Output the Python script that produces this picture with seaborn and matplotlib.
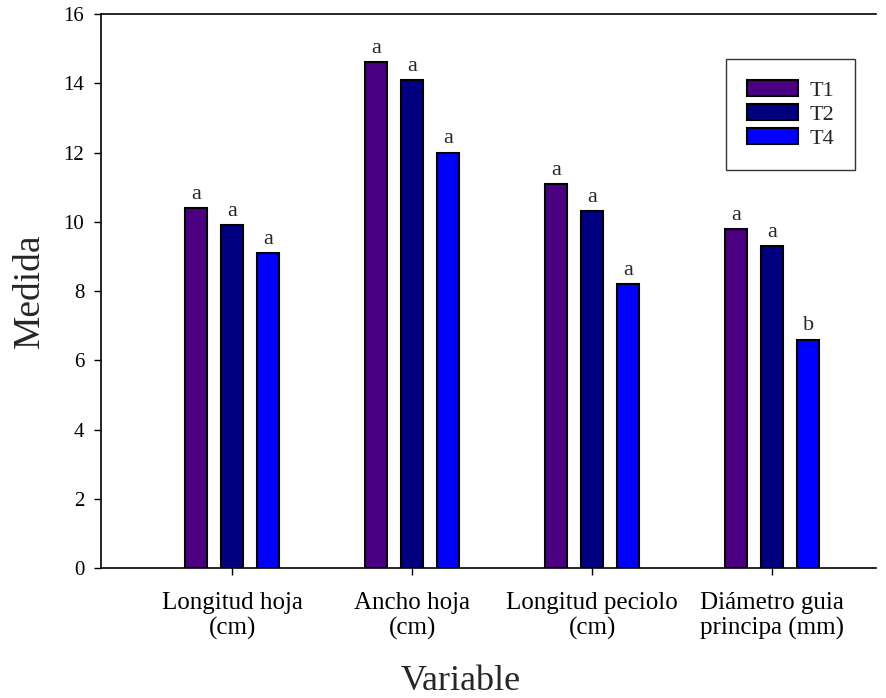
import pandas as pd
import matplotlib
matplotlib.use("Agg")
import matplotlib.pyplot as plt
import seaborn as sns

# -------------------- DATA --------------------
variables = ["Longitud hoja\n(cm)", "Ancho hoja\n(cm)",
             "Longitud peciolo\n(cm)", "Diámetro guia\nprincipa (mm)"]
t1 = [10.4, 14.6, 11.1, 9.8]
t2 = [9.9, 14.1, 10.3, 9.3]
t4 = [9.1, 12.0, 8.2, 6.6]
letras_t1 = ["a", "a", "a", "a"]
letras_t2 = ["a", "a", "a", "a"]
letras_t4 = ["a", "a", "a", "b"]
tratamientos = ["T1", "T2", "T4"]
colores = ["#4B0082", "#000080", "#0000FF"]

df = pd.DataFrame({
    "Variable": variables * 3,
    "Medida": t1 + t2 + t4,
    "Tratamiento": ["T1"] * 4 + ["T2"] * 4 + ["T4"] * 4,
})

# -------------------- STYLE --------------------
sns.set_style("ticks")
plt.rcParams["font.family"] = ["Liberation Serif", "DejaVu Serif"]

fig = plt.figure(figsize=(8.86, 6.98), dpi=100)
ax = fig.add_axes([0.114, 0.186, 0.875, 0.794])

sns.barplot(data=df, x="Variable", y="Medida", hue="Tratamiento",
            hue_order=tratamientos, palette=colores, saturation=1,
            width=0.6, gap=0.4, edgecolor="black", linewidth=1.5,
            errorbar=None, ax=ax)

# letters above bars
for cont, letras in zip(ax.containers, [letras_t1, letras_t2, letras_t4]):
    ax.bar_label(cont, labels=letras, padding=3, fontsize=16)

ax.set_ylim(0, 16)
ax.set_xlim(-0.728, 3.578)
ax.set_yticks(range(0, 17, 2))
ax.tick_params(axis="both", direction="out", length=5, width=1, colors="black")
ax.tick_params(axis="y", labelsize=15, pad=7)
ax.tick_params(axis="x", labelsize=18, pad=12)
for lab in ax.get_xticklabels():
    lab.set_linespacing(1.2)

for side in ["left", "bottom", "top"]:
    ax.spines[side].set_linewidth(1.2)
    ax.spines[side].set_color("black")
ax.spines["right"].set_visible(False)

ax.set_ylabel("Medida", fontsize=27, labelpad=12)
ax.set_xlabel("Variable", fontsize=26)
ax.xaxis.set_label_coords(0.4645, -0.174)

leg = ax.legend(loc="upper left", bbox_to_anchor=(0.806, 0.919), frameon=True,
                fancybox=False, edgecolor="black", fontsize=16,
                handlelength=2.3, handleheight=0.72, borderpad=0.95,
                labelspacing=0.15, handletextpad=0.5, borderaxespad=0,
                title=None)
leg.get_frame().set_linewidth(1.0)

fig.savefig("out.png", dpi=100)
